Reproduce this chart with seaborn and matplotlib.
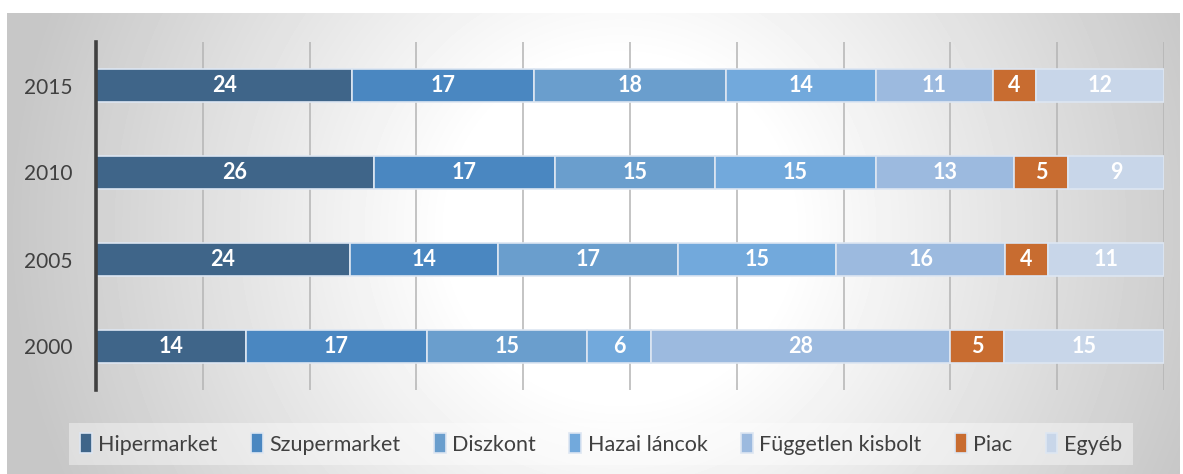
import numpy as np
import pandas as pd
import matplotlib
matplotlib.use("Agg")
import matplotlib.pyplot as plt
import seaborn as sns

years = ["2015", "2010", "2005", "2000"]
categories = ["Hipermarket", "Szupermarket", "Diszkont", "Hazai láncok",
              "Független kisbolt", "Piac", "Egyéb"]
hipermarket = [24, 26, 24, 14]
szupermarket = [17, 17, 14, 17]
diszkont = [18, 15, 17, 15]
hazai = [14, 15, 15, 6]
fuggetlen = [11, 13, 16, 28]
piac = [4, 5, 4, 5]
egyeb = [12, 9, 11, 15]
colors = ["#3f6589", "#4a87c1", "#6a9ecd", "#72a9dc", "#9cbadf", "#c86c30", "#c8d6e9"]

series = [hipermarket, szupermarket, diszkont, hazai, fuggetlen, piac, egyeb]
df = pd.DataFrame(dict(zip(categories, series)), index=years)
# 100% stacked: shares per year
share = df.div(df.sum(axis=1), axis=0) * 100
left = share.cumsum(axis=1) - share

sns.set_theme(style="white")
plt.rcParams["font.family"] = ["Lato", "DejaVu Sans"]

W, H = 1183, 474
fig = plt.figure(figsize=(W / 100, H / 100), dpi=100)
fig.patch.set_facecolor("white")

# radial gradient background of the chart area
bg = fig.add_axes([7 / W, 0, 1173 / W, 461 / H], zorder=-1)
yy, xx = np.mgrid[0:461, 0:1173]
r = np.hypot(xx - 613, yy - 215)
shade = 1 - 0.22 * np.clip((r - 170) / 440, 0, 1)
bg.imshow(shade, cmap="gray", vmin=0, vmax=1, aspect="auto", interpolation="bilinear")
bg.axis("off")

ax = fig.add_axes([96 / W, 84 / H, 1068 / W, 348 / H])
ax.set_facecolor("none")

for cat, col in zip(categories, colors):
    sns.barplot(x=share[cat].values, y=years, order=years, left=left[cat].values,
                color=col, saturation=1, width=0.38, errorbar=None, orient="h",
                edgecolor="#dde6f2", linewidth=1.2, ax=ax, label=cat)
    ax.bar_label(ax.containers[-1], labels=[str(v) for v in df[cat]],
                 label_type="center", color="white", fontweight="bold", fontsize=15.5)

ax.set_xlim(0, 100)
ax.set_ylim(3.5, -0.5)
ax.set_xticks(np.arange(10, 101, 10))
ax.set_xticklabels([])
ax.xaxis.grid(True, color="#b4b4b4", linewidth=1.1)
ax.set_axisbelow(True)
ax.tick_params(axis="y", length=0, pad=17, labelsize=15, labelcolor="#404040")
ax.tick_params(axis="x", length=0)
ax.set_xlabel("")
ax.set_ylabel("")
for s in ["top", "right", "bottom"]:
    ax.spines[s].set_visible(False)
ax.spines["left"].set_color("#404040")
ax.spines["left"].set_linewidth(2.6)

handles, labels = ax.get_legend_handles_labels()
if ax.get_legend():
    ax.get_legend().remove()
leg = fig.legend(handles, labels, ncol=7, loc="center",
                 bbox_to_anchor=(601 / W, 30 / H), frameon=True, fontsize=15.5,
                 handlelength=0.55, handleheight=1.0, handletextpad=0.3,
                 columnspacing=1.55, borderpad=0.5, fancybox=False)
leg.get_frame().set_facecolor("white")
leg.get_frame().set_alpha(0.4)
leg.get_frame().set_edgecolor("none")
for t in leg.get_texts():
    t.set_color("#404040")

fig.savefig("out.png", dpi=100)
